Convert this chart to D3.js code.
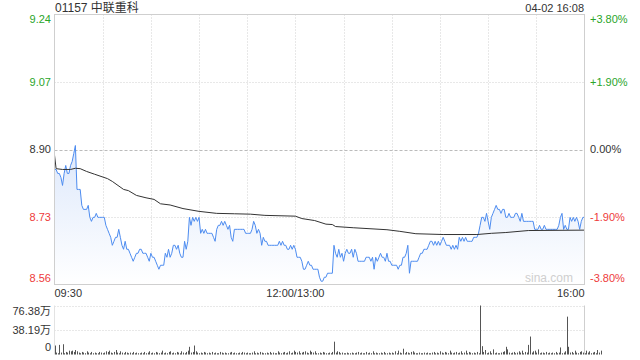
<!DOCTYPE html>
<html>
<head>
<meta charset="utf-8">
<script src="https://cdn.jsdelivr.net/npm/d3@7"></script>
<style>
  body { margin: 0; background: #fff; }
  svg { display: block; font-family: "Liberation Sans", Arial, "Noto Sans CJK SC", sans-serif; }
</style>
</head>
<body>
<div id="chart"></div>
<script>
// stock info
const title = "01157 中联重科";
const stamp = "04-02 16:08";
const prevClose = 8.90;

// price each minute from 09:30 (lunch removed), 331 points
const prices = [
  8.85, 8.85, 8.84, 8.84, 8.83, 8.81, 8.84, 8.86, 8.84, 8.84,
  8.86, 8.87, 8.89, 8.91, 8.80, 8.80, 8.80, 8.76, 8.75, 8.75,
  8.75, 8.76, 8.73, 8.72, 8.73, 8.73, 8.74, 8.73, 8.73, 8.73,
  8.73, 8.73, 8.71, 8.70, 8.69, 8.68, 8.66, 8.67, 8.68, 8.68,
  8.70, 8.68, 8.66, 8.65, 8.67, 8.65, 8.65, 8.64, 8.63, 8.62,
  8.63, 8.64, 8.64, 8.65, 8.65, 8.64, 8.64, 8.64, 8.63, 8.62,
  8.64, 8.63, 8.63, 8.62, 8.61, 8.60, 8.61, 8.61, 8.61, 8.64,
  8.63, 8.65, 8.63, 8.64, 8.66, 8.66, 8.65, 8.66, 8.64, 8.63,
  8.63, 8.67, 8.65, 8.67, 8.73, 8.71, 8.73, 8.72, 8.73, 8.72,
  8.73, 8.69, 8.70, 8.69, 8.70, 8.69, 8.69, 8.69, 8.69, 8.68,
  8.67, 8.70, 8.71, 8.71, 8.72, 8.71, 8.72, 8.71, 8.70, 8.71,
  8.68, 8.67, 8.70, 8.70, 8.70, 8.70, 8.70, 8.70, 8.70, 8.69,
  8.69, 8.69, 8.69, 8.70, 8.72, 8.71, 8.69, 8.70, 8.69, 8.66,
  8.68, 8.67, 8.67, 8.66, 8.66, 8.66, 8.66, 8.66, 8.66, 8.66,
  8.67, 8.66, 8.67, 8.66, 8.66, 8.65, 8.65, 8.66, 8.65, 8.66,
  8.65, 8.63, 8.63, 8.63, 8.62, 8.60, 8.60, 8.61, 8.62, 8.61,
  8.61, 8.60, 8.60, 8.60, 8.60, 8.58, 8.57, 8.57, 8.58, 8.58,
  8.59, 8.59, 8.59, 8.59, 8.66, 8.64, 8.63, 8.65, 8.63, 8.64,
  8.62, 8.64, 8.65, 8.64, 8.64, 8.65, 8.63, 8.65, 8.64, 8.62,
  8.62, 8.62, 8.62, 8.62, 8.63, 8.63, 8.63, 8.62, 8.63, 8.60,
  8.63, 8.62, 8.63, 8.64, 8.63, 8.63, 8.62, 8.64, 8.62, 8.62,
  8.61, 8.61, 8.61, 8.61, 8.60, 8.61, 8.61, 8.63, 8.63, 8.64,
  8.66, 8.59, 8.62, 8.62, 8.62, 8.62, 8.62, 8.63, 8.64, 8.64,
  8.65, 8.65, 8.65, 8.66, 8.67, 8.67, 8.66, 8.67, 8.66, 8.67,
  8.66, 8.67, 8.68, 8.67, 8.66, 8.66, 8.66, 8.65, 8.66, 8.65,
  8.66, 8.65, 8.68, 8.67, 8.68, 8.67, 8.68, 8.67, 8.67, 8.67,
  8.67, 8.68, 8.68, 8.68, 8.69, 8.71, 8.73, 8.73, 8.72, 8.74,
  8.72, 8.70, 8.73, 8.74, 8.75, 8.76, 8.75, 8.75, 8.74, 8.75,
  8.75, 8.73, 8.73, 8.74, 8.73, 8.73, 8.73, 8.74, 8.74, 8.73,
  8.72, 8.74, 8.72, 8.72, 8.72, 8.72, 8.72, 8.72, 8.72, 8.70,
  8.70, 8.70, 8.71, 8.70, 8.70, 8.71, 8.70, 8.70, 8.70, 8.70,
  8.70, 8.70, 8.70, 8.70, 8.71, 8.73, 8.74, 8.70, 8.71, 8.70,
  8.70, 8.73, 8.72, 8.73, 8.72, 8.73, 8.72, 8.70, 8.72, 8.73,
  8.73
];

// average price line, read at these minutes
const avgMinutes = [0, 1, 5, 10, 13, 16, 20, 25, 33, 36, 43, 46, 51, 57, 62, 66, 72, 80, 90, 101,
  112, 122, 131, 150, 154, 162, 169, 173, 175, 186, 207, 215, 225, 242, 263, 272, 281, 295, 330];
const avgValues = [8.886, 8.852, 8.85, 8.85, 8.853, 8.852, 8.845, 8.838, 8.827, 8.82, 8.80, 8.797,
  8.785, 8.779, 8.775, 8.764, 8.761, 8.752, 8.745, 8.74, 8.739, 8.738, 8.735, 8.733, 8.727, 8.722,
  8.713, 8.712, 8.707, 8.704, 8.699, 8.695, 8.689, 8.687, 8.687, 8.690, 8.692, 8.697, 8.698];

// volume each minute, in 万
const volumes = [
  14, 3, 2, 15, 3, 16, 2, 4, 3, 6, 5, 6, 4, 7, 5, 3, 2, 4, 3, 2,
  5, 3, 2, 4, 2, 3, 2, 2, 4, 3, 2, 3, 5, 4, 6, 3, 2, 4, 7, 3,
  2, 5, 3, 2, 4, 3, 2, 3, 2, 4, 2, 3, 2, 2, 3, 2, 4, 2, 3, 5,
  2, 3, 2, 4, 3, 2, 3, 6, 2, 3, 2, 4, 5, 2, 3, 2, 4, 3, 2, 5,
  3, 2, 4, 6, 12, 3, 4, 14, 5, 3, 2, 3, 2, 4, 3, 2, 3, 2, 4, 2,
  3, 2, 2, 4, 3, 2, 3, 2, 2, 3, 4, 2, 3, 2, 2, 3, 2, 4, 3, 2,
  3, 2, 2, 3, 5, 2, 3, 2, 4, 3, 2, 2, 3, 2, 4, 2, 3, 2, 2, 5,
  3, 2, 3, 4, 2, 3, 5, 2, 3, 6, 4, 3, 5, 2, 3, 4, 5, 3, 2, 6,
  4, 3, 5, 2, 2, 3, 2, 4, 3, 2, 2, 3, 2, 4, 20, 3, 5, 4, 2, 3,
  2, 2, 3, 2, 2, 3, 2, 2, 3, 4, 2, 3, 2, 2, 4, 2, 3, 2, 5, 2,
  3, 2, 2, 3, 2, 4, 2, 2, 3, 2, 3, 2, 5, 2, 6, 3, 2, 9, 2, 4,
  3, 2, 4, 5, 3, 2, 2, 3, 2, 2, 3, 2, 3, 2, 2, 3, 4, 2, 3, 2,
  5, 3, 2, 4, 3, 2, 6, 3, 2, 3, 4, 2, 3, 5, 2, 3, 6, 2, 4, 3,
  2, 3, 2, 4, 2, 76.38, 13, 4, 7, 2, 3, 5, 2, 8, 2, 3, 2, 2, 3, 4,
  5, 12, 8, 3, 2, 3, 4, 2, 3, 5, 3, 6, 2, 4, 3, 15, 28, 3, 5, 6,
  3, 8, 2, 3, 3, 2, 4, 2, 3, 2, 3, 2, 4, 2, 3, 11, 2, 3, 5, 59,
  12, 3, 4, 2, 6, 3, 2, 4, 5, 3, 2, 6, 3, 5, 2, 3, 4, 2, 7, 3,
  6
];

// tick labels
const pctLevels = [3.8, 1.9, 0, -1.9, -3.8];
const priceLabels = ["9.24", "9.07", "8.90", "8.73", "8.56"];
const pctLabels = ["+3.80%", "+1.90%", "0.00%", "-1.90%", "-3.80%"];
const timeMarks = [0, 150, 330];
const timeLabels = ["09:30", "12:00/13:00", "16:00"];
const volLevels = [76.38, 38.19, 0];
const volLabels = ["76.38万", "38.19万", "0"];

const width = 640, height = 360;
const left = 54.5, right = 584.5;
const green = "#2aa52a", red = "#ee3b3b", dark = "#333";

const svg = d3.select("#chart").append("svg")
  .attr("width", width)
  .attr("height", height);

const x = d3.scaleLinear().domain([0, 330]).range([left, right]);
const y = d3.scaleLinear()
  .domain([prevClose * (1 - 0.038), prevClose * (1 + 0.038)])
  .range([284.5, 14.5]);
const vy = d3.scaleLinear().domain([0, 76.38]).range([354.5, 305.5]);

function levelColor(p) {
  return p > 0 ? green : (p < 0 ? red : dark);
}

// header texts
svg.append("text")
  .attr("x", 55).attr("y", 12)
  .attr("font-size", 12).attr("fill", dark)
  .text(title);

svg.append("text")
  .attr("x", 584).attr("y", 12)
  .attr("text-anchor", "end")
  .attr("font-size", 11).attr("fill", dark)
  .text(stamp);

// vertical grid every 30 minutes
const gridTimes = d3.range(30, 330, 30);
svg.append("g").selectAll("line")
  .data(gridTimes)
  .enter().append("line")
  .attr("x1", d => Math.round(x(d)) + 0.5).attr("x2", d => Math.round(x(d)) + 0.5)
  .attr("y1", y.range()[1]).attr("y2", y.range()[0])
  .attr("stroke", "#d0d0d0")
  .attr("stroke-dasharray", "1,2");

// horizontal grid
svg.append("g").selectAll("line")
  .data(pctLevels.filter(p => Math.abs(p) < 3))
  .enter().append("line")
  .attr("x1", left).attr("x2", right)
  .attr("y1", d => Math.round(y(prevClose * (1 + d / 100))) + 0.5)
  .attr("y2", d => Math.round(y(prevClose * (1 + d / 100))) + 0.5)
  .attr("stroke", d => d == 0 ? "#bbb" : "#d0d0d0")
  .attr("stroke-dasharray", d => d == 0 ? "3,2" : "1,2");

// area gradient under the price line
const defs = svg.append("defs");
const grad = defs.append("linearGradient")
  .attr("id", "fillGrad")
  .attr("x1", 0).attr("y1", 0).attr("x2", 0).attr("y2", 1);
grad.append("stop").attr("offset", "0%").attr("stop-color", "#dde8fb");
grad.append("stop").attr("offset", "100%").attr("stop-color", "#ffffff");

const area = d3.area()
  .x((d, i) => x(i))
  .y0(y.range()[0])
  .y1(d => y(d));

svg.append("path")
  .datum(prices)
  .attr("d", area)
  .attr("fill", "url(#fillGrad)");

// watermark
svg.append("text")
  .attr("x", 573).attr("y", 282)
  .attr("text-anchor", "end")
  .attr("font-size", 12).attr("fill", "#cfcfcf")
  .text("sina.com");

// price line
const line = d3.line()
  .x((d, i) => x(i))
  .y(d => y(d));

svg.append("path")
  .datum(prices)
  .attr("d", line)
  .attr("fill", "none")
  .attr("stroke", "#4d8cf0")
  .attr("stroke-width", 1);

// average line
const avgLine = d3.line()
  .x(d => x(d[0]))
  .y(d => y(d[1]));

svg.append("path")
  .datum(avgMinutes.map((m, i) => [m, avgValues[i]]))
  .attr("d", avgLine)
  .attr("fill", "none")
  .attr("stroke", "#333")
  .attr("stroke-width", 1);

// frame
svg.append("rect")
  .attr("x", left).attr("y", y.range()[1])
  .attr("width", right - left).attr("height", y.range()[0] - y.range()[1])
  .attr("fill", "none")
  .attr("stroke", "#cfcfcf");

// left price labels + right percent labels
pctLevels.forEach(function (p, i) {
  let yy = y(prevClose * (1 + p / 100));
  if (i == 0) yy += 5;
  if (i == pctLevels.length - 1) yy -= 6;

  svg.append("text")
    .attr("x", 51).attr("y", yy)
    .attr("dy", "0.35em")
    .attr("text-anchor", "end")
    .attr("font-size", 11)
    .attr("fill", levelColor(p))
    .text(priceLabels[i]);

  svg.append("text")
    .attr("x", 590).attr("y", yy)
    .attr("dy", "0.35em")
    .attr("font-size", 11)
    .attr("fill", levelColor(p))
    .text(pctLabels[i]);
});

// time labels
timeMarks.forEach(function (t, i) {
  svg.append("text")
    .attr("x", i == 0 ? x(t) : (i == timeMarks.length - 1 ? x(t) : x(t)))
    .attr("y", 297)
    .attr("text-anchor", i == 0 ? "start" : (i == timeMarks.length - 1 ? "end" : "middle"))
    .attr("font-size", 11)
    .attr("fill", dark)
    .text(timeLabels[i]);
});

// volume grid
svg.append("g").selectAll("line")
  .data(volLevels.filter(v => v > 0))
  .enter().append("line")
  .attr("x1", left).attr("x2", right)
  .attr("y1", d => Math.round(vy(d)) + 0.5).attr("y2", d => Math.round(vy(d)) + 0.5)
  .attr("stroke", "#d0d0d0")
  .attr("stroke-dasharray", "1,2");

svg.append("line")
  .attr("x1", right).attr("x2", right)
  .attr("y1", vy(76.38)).attr("y2", vy(0))
  .attr("stroke", "#cfcfcf");
svg.append("line")
  .attr("x1", left).attr("x2", left)
  .attr("y1", vy(76.38)).attr("y2", vy(0))
  .attr("stroke", "#e3e3e3");

// volume bars
svg.append("g").selectAll("rect")
  .data(volumes)
  .enter().append("rect")
  .attr("x", (d, i) => Math.round(x(i)))
  .attr("y", d => vy(d))
  .attr("width", 1)
  .attr("height", d => vy(0) - vy(d))
  .attr("fill", "#555");

// volume labels
volLevels.forEach(function (v, i) {
  let yy = vy(v);
  if (i == 0) yy += 6;
  if (i == volLevels.length - 1) yy -= 7;
  svg.append("text")
    .attr("x", 51).attr("y", yy)
    .attr("dy", "0.35em")
    .attr("text-anchor", "end")
    .attr("font-size", 11)
    .attr("fill", dark)
    .text(volLabels[i]);
});
</script>
</body>
</html>
